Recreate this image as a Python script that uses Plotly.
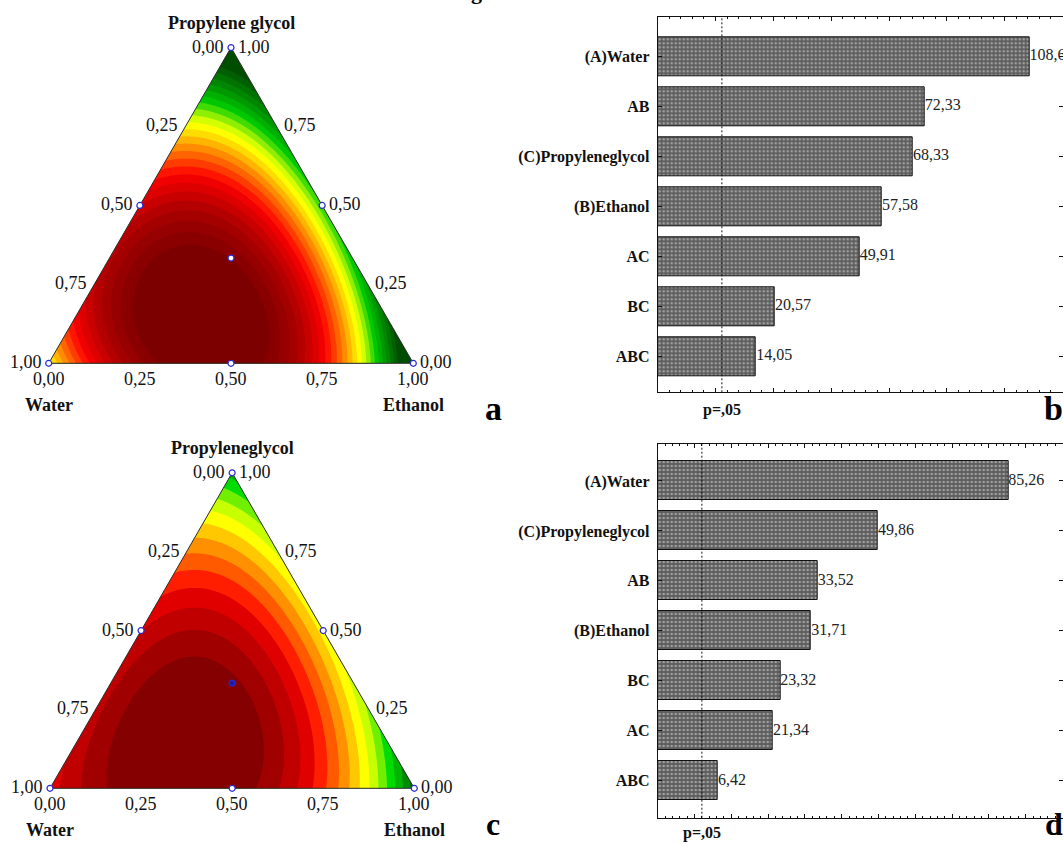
import numpy as np
import plotly.graph_objects as go

FIG_W, FIG_H = 1063, 842
SERIF = "Liberation Serif"

# ---------------- Pareto charts of standardized effects ----------------
effects_b_labels = ["(A)Water", "AB", "(C)Propyleneglycol", "(B)Ethanol", "AC", "BC", "ABC"]
effects_b_values = [108.62, 72.33, 68.33, 57.58, 49.91, 20.57, 14.05]
p05_b = 2.2

effects_d_labels = ["(A)Water", "(C)Propyleneglycol", "AB", "(B)Ethanol", "BC", "AC", "ABC"]
effects_d_values = [85.26, 49.86, 33.52, 31.71, 23.32, 21.34, 6.42]
p05_d = 2.0

# ---------------- Full cubic mixture models (response in contour-level units) ----------------
# term order: W, E, P, WE, WP, EP, WE(W-E), WP(W-P), EP(E-P), WEP
coef_a = [10.0, -4.0, -3.0, 88.2, 60.0, 40.0, -9.8, 14.7, 5.0, 40.0]
coef_c = [11.0, 0.0, 2.0, 34.9, 20.0, 20.0, -4.5, -4.0, 0.0, 30.0]

# fill colour of each contour band, lowest level first
bands_a = ["#004d00", "#005f00", "#007200", "#008600", "#009a00", "#00b000", "#00c800",
           "#40dc00", "#90ee00", "#d4ff00", "#ffff00", "#ffdc00", "#ffb400", "#ff8c00",
           "#ff6400", "#ff3c00", "#ff1400", "#f00000", "#dc0000", "#c80000", "#b40000",
           "#a50000", "#960000", "#8a0000", "#7d0000"]
bands_c = ["#005a00", "#008a00", "#00b400", "#00dc00", "#70f000", "#c8ff00", "#ffff00",
           "#ffc800", "#ff9000", "#ff5a00", "#ff1e00", "#e00000", "#c00000", "#a00000",
           "#850000"]

# simplex-centroid design (fractions of water, ethanol, propylene glycol)
design_water = [1, 0, 0, 0.5, 0.5, 0, 1 / 3]
design_ethanol = [0, 1, 0, 0.5, 0, 0.5, 1 / 3]
design_pg = [0, 0, 1, 0, 0.5, 0.5, 1 / 3]

tern_ticks = [0.0, 0.25, 0.5, 0.75, 1.0]

SQ = np.sqrt(3) / 2
PAD = 0.06


def px_x(p):
    return p / FIG_W


def px_y(p):
    return 1 - p / FIG_H


def fmt(v, nd=2):
    return f"{v:.{nd}f}".replace(".", ",")


fig = go.Figure()
annotations = []
shapes = []


def ternary_panel(xa, ya, coef, bands, top_title, centroid_fill):
    gx = np.linspace(0, 1, 361)
    gy = np.linspace(0, SQ, 313)
    X, Y = np.meshgrid(gx, gy)
    P = Y / SQ
    E = X - P / 2
    W = 1 - E - P
    c = coef
    Z = (c[0] * W + c[1] * E + c[2] * P + c[3] * W * E + c[4] * W * P + c[5] * E * P
         + c[6] * W * E * (W - E) + c[7] * W * P * (W - P) + c[8] * E * P * (E - P)
         + c[9] * W * E * P)
    n = len(bands) - 1
    cscale = [[k / n, col] for k, col in enumerate(bands)]
    fig.add_trace(go.Contour(
        x=gx, y=gy, z=Z, xaxis=xa, yaxis=ya, colorscale=cscale,
        autocontour=False,
        contours=dict(start=0.5, end=n - 0.5, size=1, coloring="fill", showlines=False),
        line=dict(width=0), showscale=False, hoverinfo="skip"))
    # white out everything outside the simplex
    masks = (([0, 0.5, 0.5, -PAD, -PAD, 0], [0, SQ, SQ + PAD, SQ + PAD, 0, 0]),
             ([1, 0.5, 0.5, 1 + PAD, 1 + PAD, 1], [0, SQ, SQ + PAD, SQ + PAD, 0, 0]))
    for mx, my in masks:
        fig.add_trace(go.Scatter(x=mx, y=my, xaxis=xa, yaxis=ya, mode="lines",
                                 fill="toself", fillcolor="white", line=dict(width=0),
                                 hoverinfo="skip", showlegend=False))
    # simplex outline
    fig.add_trace(go.Scatter(x=[0, 1, 0.5, 0], y=[0, 0, SQ, 0], xaxis=xa, yaxis=ya,
                             mode="lines", line=dict(color="#2b2b2b", width=1),
                             cliponaxis=False, hoverinfo="skip", showlegend=False))
    # design points
    dx = [e + p / 2 for e, p in zip(design_ethanol, design_pg)]
    dy = [p * SQ for p in design_pg]
    fills = ["white"] * 6 + [centroid_fill]
    fig.add_trace(go.Scatter(x=dx, y=dy, xaxis=xa, yaxis=ya, mode="markers",
                             marker=dict(size=6, color=fills, line=dict(color="#2a2ad0", width=1.2)),
                             cliponaxis=False, hoverinfo="skip", showlegend=False))
    tf = dict(family=SERIF, size=18, color="#111111")
    for t in tern_ticks:
        # water (left side): 0 at the apex, 1 at the water vertex
        annotations.append(dict(x=(1 - t) / 2, y=(1 - t) * SQ, xref=xa, yref=ya, text=fmt(t),
                                showarrow=False, xanchor="right", yanchor="middle",
                                xshift=-5, yshift=1, font=tf))
        # propylene glycol (right side)
        annotations.append(dict(x=1 - t / 2, y=t * SQ, xref=xa, yref=ya, text=fmt(t),
                                showarrow=False, xanchor="left", yanchor="middle",
                                xshift=5, yshift=1, font=tf))
        # ethanol (bottom)
        annotations.append(dict(x=t, y=0, xref=xa, yref=ya, text=fmt(t),
                                showarrow=False, xanchor="center", yanchor="middle",
                                yshift=-16, font=tf))
    bf = dict(family=SERIF, size=18, color="#111111", weight="bold")
    annotations.append(dict(x=0.5, y=SQ, xref=xa, yref=ya, text=top_title, showarrow=False,
                            xanchor="center", yanchor="middle", yshift=25, font=bf))
    annotations.append(dict(x=0, y=0, xref=xa, yref=ya, text="Water", showarrow=False,
                            xanchor="center", yanchor="middle", yshift=-42, font=bf))
    annotations.append(dict(x=1, y=0, xref=xa, yref=ya, text="Ethanol", showarrow=False,
                            xanchor="center", yanchor="middle", yshift=-42, font=bf))


def pareto_panel(xa, ya, labels, values, pcrit, xmin, xmax, dtick, mdtick, pshift):
    fig.add_trace(go.Bar(
        y=labels, x=[v - xmin for v in values], base=xmin, orientation="h",
        xaxis=xa, yaxis=ya, width=0.78,
        marker=dict(color="#626262", line=dict(color="#111111", width=1),
                    pattern=dict(shape=".", fillmode="replace", bgcolor="#5c5c5c",
                                 fgcolor="#a0a0a0", size=4, solidity=0.35)),
        hoverinfo="skip", showlegend=False))
    fig.add_trace(go.Scatter(
        y=labels, x=values, xaxis=xa, yaxis=ya, mode="text",
        text=[fmt(v) for v in values], textposition="middle right",
        textfont=dict(family=SERIF, size=16, color="#222222"),
        cliponaxis=False, hoverinfo="skip", showlegend=False))
    shapes.append(dict(type="line", xref=xa, yref=f"{ya} domain", x0=pcrit, x1=pcrit, y0=0, y1=1,
                       line=dict(color="#111111", width=1, dash="2px,2px")))
    annotations.append(dict(x=pcrit, y=0, xref=xa, yref=f"{ya} domain", text="p=,05",
                            showarrow=False, xanchor="center", yanchor="middle", yshift=pshift,
                            font=dict(family=SERIF, size=16, color="#111111", weight="bold")))
    return dict(range=[xmin, xmax], dtick=dtick, mdtick=mdtick)


ternary_panel("x", "y", coef_a, bands_a, "Propylene glycol", "white")
ternary_panel("x3", "y3", coef_c, bands_c, "Propyleneglycol", "#1c1ca0")
rb = pareto_panel("x2", "y2", effects_b_labels, effects_b_values, p05_b, -20, 120, 20, 4, -18)
rd = pareto_panel("x4", "y4", effects_d_labels, effects_d_values, p05_d, -10, 100, 10, 2, -15)

hidden = dict(visible=False, showgrid=False, zeroline=False, fixedrange=True)


def tern_axes(x0, y0, unit, anchor_x, anchor_y):
    xa = dict(domain=[px_x(x0 - PAD * unit), px_x(x0 + (1 + PAD) * unit)],
              range=[-PAD, 1 + PAD], anchor=anchor_y, **hidden)
    ya = dict(domain=[px_y(y0 + PAD * unit), px_y(y0 - (SQ + PAD) * unit)],
              range=[-PAD, SQ + PAD], anchor=anchor_x, **hidden)
    return xa, ya


def bar_x(r, anchor, domain):
    return dict(domain=domain, range=r["range"], anchor=anchor, showticklabels=False,
                ticks="inside", ticklen=4, tickcolor="#111111", dtick=r["dtick"], tick0=0,
                minor=dict(ticks="inside", ticklen=2, dtick=r["mdtick"], tick0=0, tickcolor="#111111"),
                showline=True, linecolor="#111111", linewidth=1, mirror="allticks",
                showgrid=False, zeroline=False)


def bar_y(labels, anchor, domain, rng):
    return dict(domain=domain, type="category", categoryorder="array", categoryarray=labels,
                range=rng, anchor=anchor, ticks="inside", ticklen=4, tickcolor="#111111",
                showline=True, linecolor="#111111", linewidth=1, mirror="allticks",
                showgrid=False, zeroline=False, ticklabelstandoff=4,
                tickfont=dict(family=SERIF, size=16, color="#111111", weight="bold"))


xa1, ya1 = tern_axes(48.7, 363.3, 364.6, "x", "y")
xa3, ya3 = tern_axes(50.0, 788.3, 364.3, "x3", "y3")

bx_dom = [px_x(657.7), px_x(1062.5)]
panel_letters = [("a", 493, 408, 34), ("b", 1053, 408, 34), ("c", 493, 824, 32), ("d", 1054, 824, 32)]
for letter, lx, ly, fs in panel_letters:
    annotations.append(dict(x=px_x(lx), y=px_y(ly), xref="paper", yref="paper", text=letter,
                            showarrow=False, xanchor="center", yanchor="middle",
                            font=dict(family=SERIF, size=fs, color="#000000", weight="bold")))
# descender of the heading line above the panels
annotations.append(dict(x=px_x(476), y=px_y(-9), xref="paper", yref="paper", text="g",
                        showarrow=False, xanchor="center", yanchor="middle",
                        font=dict(family=SERIF, size=22, color="#000000", weight="bold")))

fig.update_layout(
    width=FIG_W, height=FIG_H, margin=dict(l=0, r=0, t=0, b=0),
    paper_bgcolor="white", plot_bgcolor="rgba(0,0,0,0)", showlegend=False,
    bargap=0,
    xaxis=xa1, yaxis=ya1, xaxis3=xa3, yaxis3=ya3,
    xaxis2=bar_x(rb, "y2", bx_dom),
    yaxis2=bar_y(effects_b_labels, "x2", [px_y(392.3), px_y(17.3)], [6.72, -0.78]),
    xaxis4=bar_x(rd, "y4", bx_dom),
    yaxis4=bar_y(effects_d_labels, "x4", [px_y(817.7), px_y(444.0)], [6.74, -0.74]),
    annotations=annotations, shapes=shapes,
)

fig.write_html("out.html", post_script="document.body.style.margin='0';")
